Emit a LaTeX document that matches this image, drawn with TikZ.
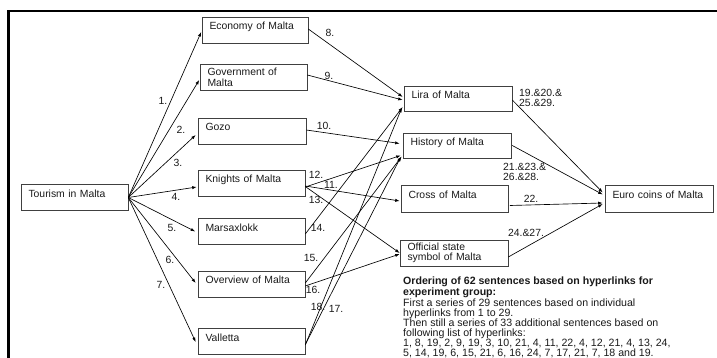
\documentclass[tikz,border=0pt]{standalone}
\usepackage{fontspec}
\setmainfont{Liberation Sans}
\usetikzlibrary{calc,arrows.meta}
\definecolor{boxc}{gray}{0.25}
\definecolor{txt}{gray}{0.1}
\begin{document}
\begin{tikzpicture}[x=1pt,y=-1pt,
  box/.style={draw=boxc, line width=0.6pt, minimum height=26pt, inner xsep=7.5pt, inner ysep=0pt,
    align=left, text width=92pt, font=\fontsize{10.4}{11}\selectfont, text=txt},
  one/.style={text height=7pt, text depth=7.6pt},
  arr/.style={draw=black, line width=0.65pt, -{Latex[length=4.5pt,width=3.2pt]}},
  lab/.style={font=\fontsize{10.4}{10}\selectfont, inner sep=0pt, text=txt, align=left}]
\useasboundingbox (0,0) rectangle (717,358);
% frame
\draw[line width=2.2pt] (8.5,360) -- (8.5,11) -- (720,11);
% left column
\node[box,one] (tour) at (74.5,197.5) {Tourism in Malta};
\node[box,one,text width=91pt] (eco) at (255,30) {Economy of Malta};
\node[box] (gov) at (253.5,77) {Government of\\Malta};
\node[box,one,text width=93pt] (gozo) at (252,131) {Gozo};
\node[box,one] (kni) at (251.5,183) {Knights of Malta};
\node[box,one] (mars) at (251.5,231.5) {Marsaxlokk};
\node[box,one] (over) at (251.5,284) {Overview of Malta};
\node[box,one] (vall) at (251.5,341.5) {Valletta};
% middle column
\node[box,one,minimum height=25pt,text width=93pt] (lira) at (458,99) {Lira of Malta};
\node[box,one,minimum height=25pt,text width=93pt] (hist) at (457,145.5) {History of Malta};
\node[box,one,minimum height=27pt] (cross) at (454.5,199) {Cross of Malta};
\node[box,text width=93pt,font=\fontsize{10.4}{10}\selectfont] (off) at (454,253) {Official state\\symbol of Malta};
% right
\node[box,one,minimum height=27pt,text width=93pt] (euro) at (659,198.5) {Euro coins of Malta};
% fan from tourism
\draw[arr] (tour.east) -- ($(eco.west)+(-0.5,2)$);
\draw[arr] (tour.east) -- ($(gov.west)+(-0.5,3)$);
\draw[arr] (tour.east) -- ($(gozo.west)+(-2,4)$);
\draw[arr] (tour.east) -- ($(kni.west)+(-1,4)$);
\draw[arr] (tour.east) -- ($(mars.west)+(-2.5,0)$);
\draw[arr] (tour.east) -- ($(over.west)+(-2,-1)$);
\draw[arr] (tour.east) -- ($(vall.west)+(-2,0.5)$);
\node[lab] (l1) at (163,101) {1.};
\node[lab] (l2) at (181,130) {2.};
\node[lab] (l3) at (178,163) {3.};
\node[lab] (l4) at (176,197) {4.};
\node[lab] (l5) at (172,228) {5.};
\node[lab] (l6) at (170,260) {6.};
\node[lab] (l7) at (161,285) {7.};
% to lira / history / cross / official
\draw[arr] ($(eco.east)+(0,-1)$) -- ($(lira.west)+(-1,-2)$);
\draw[arr] ($(gov.east)+(0,-2)$) -- ($(lira.west)+(-1,1)$);
\draw[arr] ($(gozo.east)+(0,-1)$) -- ($(hist.west)+(-3,-2)$);
\draw[arr] ($(kni.east)+(0,3)$) -- ($(cross.west)+(-1,2)$);
\draw[arr] ($(kni.east)+(0,4)$) -- ($(hist.west)+(-2,10)$);
\draw[arr] ($(kni.east)+(0,3.5)$) -- ($(off.west)+(0,0)$);
\draw[arr] ($(mars.east)+(0,2.5)$) -- ($(lira.west)+(-1,8)$);
\draw[arr] ($(over.east)+(0,-1)$) -- ($(hist.west)+(-1,11)$);
\draw[arr] ($(over.east)+(0,2)$) -- ($(off.west)+(0,1)$);
\draw[arr] ($(vall.east)+(0,3)$) -- ($(hist.west)+(-2,11.5)$);
\draw[arr] ($(vall.east)+(0,3.5)$) -- ($(lira.west)+(-2,9)$);
\node[lab] (l8) at (330,33) {8.};
\node[lab] (l9) at (329,75.5) {9.};
\node[lab] (l10) at (324,126) {10.};
\node[lab] (l11) at (331,185) {11.};
\node[lab] (l12) at (316,175) {12.};
\node[lab] (l13) at (316,200) {13.};
\node[lab] (l14) at (318,228) {14.};
\node[lab] (l15) at (311,258) {15.};
\node[lab] (l16) at (313,290) {16.};
\node[lab] (l17) at (336,309) {17.};
\node[lab] (l18) at (318,307) {18.};
% to euro
\draw[arr] ($(lira.east)+(0,1)$) -- ($(euro.west)+(-2,-6)$);
\draw[arr] ($(hist.east)+(1,0)$) -- ($(euro.west)+(-2,-4)$);
\draw[arr] ($(cross.east)+(1.5,6.5)$) -- ($(euro.west)+(-2,4.5)$);
\draw[arr] ($(off.east)+(0,4)$) -- ($(euro.west)+(-2,5.5)$);
\node[lab,anchor=west] (l19) at (519,98) {19.\&20.\&\\25.\&29.};
\node[lab,anchor=west] (l21) at (503,172) {21.\&23.\&\\26.\&28.};
\node[lab] (l22) at (531,199) {22.};
\node[lab] (l24) at (526,233) {24.\&27.};
% note
\node[lab,anchor=north west,font=\fontsize{10.6}{9.9}\selectfont] (note) at (403,277) {\textbf{Ordering of 62 sentences based on hyperlinks for}\\
\textbf{experiment group:}\\
First a series of 29 sentences based on individual\\
hyperlinks from 1 to 29.\\
Then still a series of 33 additional sentences based on\\
following list of hyperlinks:\\
1, 8, 19, 2, 9, 19, 3, 10, 21, 4, 11, 22, 4, 12, 21, 4, 13, 24,\\
5, 14, 19, 6, 15, 21, 6, 16, 24, 7, 17, 21, 7, 18 and 19.};
\end{tikzpicture}
\end{document}
